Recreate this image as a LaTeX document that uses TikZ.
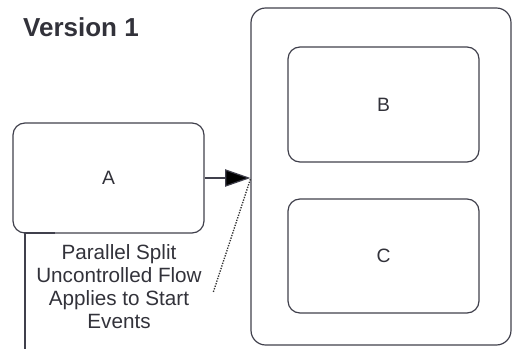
\documentclass[tikz,border=0pt]{standalone}
\usepackage{fontspec}
\setmainfont{Liberation Sans}
\usetikzlibrary{arrows.meta}
\definecolor{edge}{RGB}{64,64,76}
\definecolor{ink}{RGB}{50,50,58}
\begin{document}
\begin{tikzpicture}[x=0.75pt,y=-0.75pt,
    task/.style={draw=edge, line width=0.9pt, rounded corners=9pt, minimum width=143.25pt, text=ink, font=\fontsize{14.5}{16}\selectfont},
    flow/.style={draw=edge, line width=0.9pt}]
            \useasboundingbox (0,0) rectangle (516,349);
            %\node[above,font=\large\bfseries] ...;
            \node[font=\bfseries\fontsize{19.5}{22}\selectfont, text=ink](title) at (81,27) {Version 1};

            \node [task, minimum height=82.5pt](A) at (108.5,178){A};
            \node [task, minimum width=195pt, minimum height=252.75pt, rounded corners=11pt](cont) at (381,176.5){};
            \node [task, minimum height=86.25pt](B) at (383.5,104.5){B};
            \node [task, minimum height=85.5pt](C) at (383.5,256){C};

            \coordinate (out) at (55,233);
            \coordinate (down) at (25,349);
            \draw[flow] (out) -- (out -| down) -- (down);
            \draw[flow, -{Triangle[length=19pt, width=13pt, fill=black]}] (A.east) -- (A.east -| cont.west);

            \node[align=center, text=ink, font=\fontsize{15.5}{17.25}\selectfont](note) at (119,287) {Parallel Split\\Uncontrolled Flow\\Applies to Start\\Events};
            \coordinate (tip) at (213,293);
            \draw[black!80, densely dotted, line width=1pt] ([yshift=-2pt]cont.west) -- (tip);
        \end{tikzpicture}
\end{document}
